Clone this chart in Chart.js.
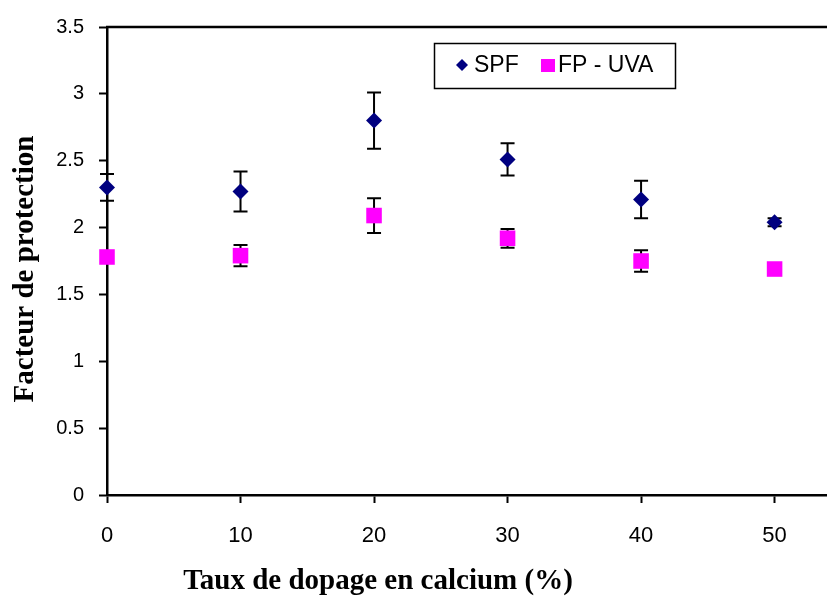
<!DOCTYPE html>
<html>
<head>
<meta charset="utf-8">
<script src="https://cdn.jsdelivr.net/npm/chart.js@4.4.0/dist/chart.umd.min.js"></script>
<style>
  html, body { margin: 0; padding: 0; background: #fff; overflow: hidden; }
  /* the reference is cut off on the right, so the canvas runs a little past the window */
  #wrap { width: 839px; height: 604px; }
</style>
</head>
<body>
<div id="wrap"><canvas id="grafik"></canvas></div>
<script>
// data
var tauxCalcium = [0, 10, 20, 30, 40, 50]
var spf = [2.30, 2.27, 2.80, 2.51, 2.21, 2.04]
var spfErr = [0.10, 0.15, 0.21, 0.12, 0.14, 0.03]
var fpUva = [1.78, 1.79, 2.09, 1.92, 1.75, 1.69]
var fpUvaErr = [0.00, 0.08, 0.13, 0.07, 0.08, 0.00]
var xTicks = [0, 10, 20, 30, 40, 50]
var yTicks = [0, 0.5, 1, 1.5, 2, 2.5, 3, 3.5]

function pts(ys) {
  return tauxCalcium.map(function (x, i) { return {x: x, y: ys[i]} })
}

// error bars, drawn under the markers
var errorBars = {
  id: 'errorBars',
  beforeDatasetsDraw: function (chart) {
    var ctx = chart.ctx
    var xs = chart.scales.x, ys = chart.scales.y
    ctx.save()
    ctx.strokeStyle = '#000'
    ctx.lineWidth = 2
    chart.data.datasets.forEach(function (ds) {
      ds.data.forEach(function (p, i) {
        var e = ds.errors[i]
        if (!e) return
        var px = xs.getPixelForValue(p.x)
        var top = ys.getPixelForValue(p.y + e)
        var bot = ys.getPixelForValue(p.y - e)
        ctx.beginPath()
        ctx.moveTo(px, top); ctx.lineTo(px, bot)
        ctx.moveTo(px - 7, top); ctx.lineTo(px + 7, top)
        ctx.moveTo(px - 7, bot); ctx.lineTo(px + 7, bot)
        ctx.stroke()
      })
    })
    ctx.restore()
  }
}

// top frame line, legend box and axis titles
var extras = {
  id: 'extras',
  afterDraw: function (chart) {
    var ctx = chart.ctx
    var a = chart.chartArea
    ctx.save()
    ctx.strokeStyle = '#000'
    ctx.lineWidth = 2.5
    ctx.beginPath()
    ctx.moveTo(a.left - 1, a.top)
    ctx.lineTo(chart.width, a.top)
    ctx.stroke()

    // legend
    ctx.lineWidth = 1.5
    ctx.strokeRect(434.5, 43.5, 241, 45)
    var ds = chart.data.datasets
    ctx.fillStyle = ds[0].backgroundColor
    ctx.beginPath()
    ctx.moveTo(462, 59); ctx.lineTo(468, 65); ctx.lineTo(462, 71); ctx.lineTo(456, 65)
    ctx.closePath(); ctx.fill()
    ctx.fillStyle = ds[1].backgroundColor
    ctx.fillRect(541, 59, 14, 13)
    ctx.fillStyle = '#000'
    ctx.font = '23px "Liberation Sans", Arial, sans-serif'
    ctx.textBaseline = 'middle'
    ctx.textAlign = 'left'
    ctx.fillText(ds[0].label, 474, 66)
    ctx.fillText(ds[1].label, 558, 66)

    // axis titles
    ctx.font = 'bold 29px "Liberation Serif", "Times New Roman", serif'
    ctx.textAlign = 'center'
    ctx.fillText('Taux de dopage en calcium (%)', 378, 582)
    ctx.translate(26, 269)
    ctx.rotate(-Math.PI / 2)
    ctx.fillText('Facteur de protection', 0, 0)
    ctx.restore()
  }
}

new Chart(document.getElementById('grafik'), {
  type: 'scatter',
  data: {
    datasets: [{
      label: 'SPF',
      data: pts(spf),
      errors: spfErr,
      clip: false,
      pointStyle: 'rectRot',
      pointRadius: 8,
      pointHoverRadius: 8,
      backgroundColor: '#000080',
      borderColor: '#000080',
      borderWidth: 0
    }, {
      label: 'FP - UVA',
      data: pts(fpUva),
      errors: fpUvaErr,
      clip: false,
      pointStyle: 'rect',
      pointRadius: 11,
      pointHoverRadius: 11,
      backgroundColor: '#FF00FF',
      borderColor: '#FF00FF',
      borderWidth: 0
    }]
  },
  options: {
    responsive: true,
    maintainAspectRatio: false,
    animation: false,
    layout: { padding: { top: 27, right: 0, bottom: 0, left: 0 } },
    plugins: {
      legend: { display: false },
      tooltip: { enabled: false }
    },
    scales: {
      x: {
        type: 'linear',
        min: 0,
        max: 54,
        afterBuildTicks: function (s) { s.ticks = xTicks.map(function (v) { return {value: v} }) },
        afterFit: function (s) { s.height = 109 },
        grid: { display: true, drawOnChartArea: false, tickLength: 8, tickColor: '#000', tickWidth: 2 },
        border: { color: '#000', width: 2.5 },
        ticks: {
          color: '#000', padding: 20,
          callback: function (v) { return String(v) },
          font: { family: '"Liberation Sans", Arial, sans-serif', size: 22 }
        }
      },
      y: {
        min: 0,
        max: 3.5,
        afterBuildTicks: function (s) { s.ticks = yTicks.map(function (v) { return {value: v} }) },
        afterFit: function (s) { s.width = 107 },
        grid: { display: true, drawOnChartArea: false, tickLength: 8, tickColor: '#000', tickWidth: 2 },
        border: { color: '#000', width: 2.5 },
        ticks: {
          color: '#000', padding: 15,
          callback: function (v) { return String(v) },
          font: { family: '"Liberation Sans", Arial, sans-serif', size: 20 }
        }
      }
    }
  },
  plugins: [errorBars, extras]
})
</script>
</body>
</html>
